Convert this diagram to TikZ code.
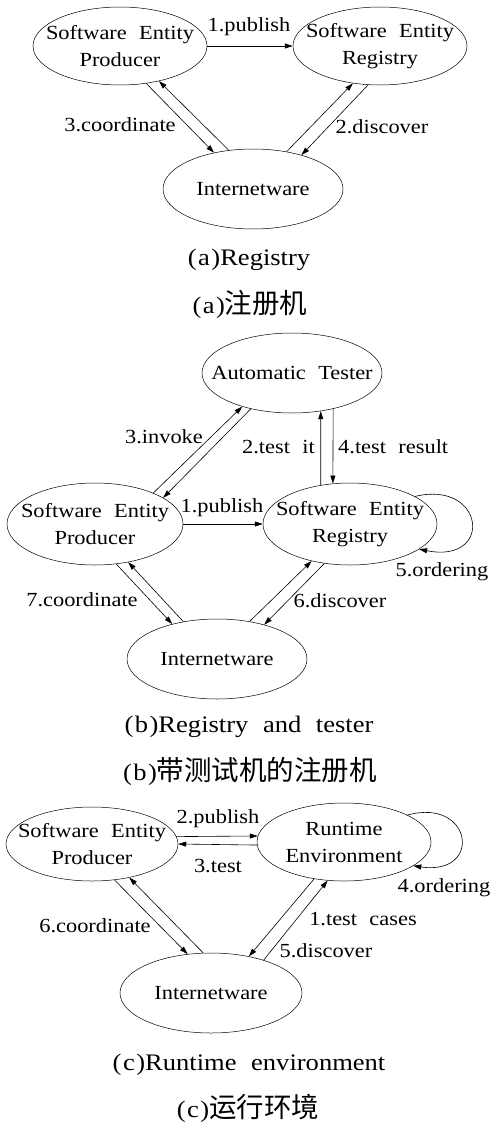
\documentclass[tikz,border=0pt]{standalone}
\usepackage{fontspec}
\setmainfont{Liberation Serif}[FakeStretch=1.12, WordSpace=2.2]
\newfontfamily\cjk{Noto Sans CJK SC}
\usetikzlibrary{shapes.geometric,arrows.meta}
\newcommand\dfont{\fontsize{20}{27}\selectfont}
\newcommand\capfont{\fontsize{23.7}{28}\selectfont}
\newcommand\cjkcap{\cjk\fontsize{27.5}{30}\selectfont}
\tikzset{
  ell/.style={draw, ellipse, inner sep=-40pt, align=center, line width=0.5pt, font=\dfont},
  lbl/.style={anchor=base, inner sep=0pt, font=\dfont},
  captext/.style={anchor=base, inner sep=0pt, font=\capfont},
  arr/.style={-{Triangle[length=8pt,width=5pt]}, line width=0.6pt}
}
\begin{document}
\begin{tikzpicture}[x=1pt,y=-1pt]
\useasboundingbox (0,0) rectangle (492,1124);
% ---------- (a) ----------
\node[ell, minimum width=174pt, minimum height=78pt] (prodA) at (120,46) {Software Entity\\Producer};
\node[ell, minimum width=174pt, minimum height=78pt] (regA) at (380,46) {Software Entity\\Registry};
\node[ell, minimum width=180pt, minimum height=80pt] (inetA) at (253,189) {Internetware};
\draw[arr] (prodA.east) -- (regA.west);
\draw[arr] (prodA.-55.3) -- (inetA.137.2);
\draw[arr] (inetA.122.7) -- (prodA.-42.8);
\draw[arr] (inetA.48.2) -- (regA.234.3);
\draw[arr] (regA.-107.6) -- (inetA.35.5);
\node[lbl] (la1) at (249,32) {1.publish};
\node[lbl] (la3) at (120,131) {3.coordinate};
\node[lbl] (la2) at (382,133) {2.discover};
\node[captext] (capA) at (249,265) {(\hspace{1.5pt}a\hspace{1.5pt})Registry};
\node[captext] (capAz) at (250,313) {(\hspace{1.5pt}a\hspace{1.5pt}){\cjkcap 注册机}};
% ---------- (b) ----------
\node[ell, minimum width=180pt, minimum height=80pt] (testB) at (292,373) {Automatic Tester};
\node[ell, minimum width=176pt, minimum height=82pt] (prodB) at (95,524) {Software Entity\\Producer};
\node[ell, minimum width=174pt, minimum height=82pt] (regB) at (350,524) {Software Entity\\Registry};
\node[ell, minimum width=180pt, minimum height=80pt] (inetB) at (217,659) {Internetware};
\draw[arr] (prodB.east) -- (regB.west);
\draw[arr] (regB.127.9) -- (testB.-53.6);
\draw[arr] (testB.-41) -- (regB.113);
\draw[arr] (prodB.28.5) -- (testB.214.2);
\draw[arr] (testB.221.9) -- (prodB.21.9);
\draw[arr] (regB.23.2) .. controls +(70,-17) and +(75,15) .. (regB.-20.4);
\draw[arr] (prodB.-62.9) -- (inetB.142.5);
\draw[arr] (inetB.132.6) -- (prodB.-49.8);
\draw[arr] (inetB.49) -- (regB.224.2);
\draw[arr] (regB.237.3) -- (inetB.36.1);
\node[lbl] (lb3) at (164,443) {3.invoke};
\node[lbl, anchor=base east] (lb2) at (315,453) {2.test it};
\node[lbl, anchor=base west] (lb4) at (338,453) {4.test result};
\node[lbl] (lb1) at (222,512) {1.publish};
\node[lbl] (lb5) at (442,576) {5.ordering};
\node[lbl] (lb7) at (82,606) {7.coordinate};
\node[lbl] (lb6) at (340,607) {6.discover};
\node[captext] (capB) at (249,732) {(\hspace{1.5pt}b\hspace{1.5pt})Registry and tester};
\node[captext] (capBz) at (250,780) {(\hspace{1.5pt}b\hspace{1.5pt}){\cjkcap 带测试机的注册机}};
% ---------- (c) ----------
\node[ell, minimum width=172pt, minimum height=74pt] (prodC) at (92,844) {Software Entity\\Producer};
\node[ell, minimum width=174pt, minimum height=78pt] (envC) at (344,842) {Runtime\\Environment};
\node[ell, minimum width=182pt, minimum height=80pt] (inetC) at (211,993) {Internetware};
\draw[arr] (prodC.5.4) -- (envC.176);
\draw[arr] (envC.-178) -- (prodC.-0.7);
\draw[arr] (envC.23.7) .. controls +(65,-18) and +(70,10) .. (envC.-19.4);
\draw[arr] (prodC.-58.8) -- (inetC.121);
\draw[arr] (inetC.101) -- (prodC.-42);
\draw[arr] (envC.231.9) -- (inetC.44.3);
\draw[arr] (inetC.32.9) -- (envC.247.2);
\node[lbl] (lc2) at (218,823) {2.publish};
\node[lbl] (lc3) at (218,872) {3.test};
\node[lbl] (lc4) at (444,892) {4.ordering};
\node[lbl] (lc6) at (95,932) {6.coordinate};
\node[lbl] (lc1) at (363,925) {1.test cases};
\node[lbl] (lc5) at (326,957) {5.discover};
\node[captext] (capC) at (249,1070) {(\hspace{1.5pt}c\hspace{1.5pt})Runtime environment};
\node[captext] (capCz) at (248,1117) {(\hspace{1.5pt}c\hspace{1.5pt}){\cjkcap 运行环境}};
\end{tikzpicture}
\end{document}
